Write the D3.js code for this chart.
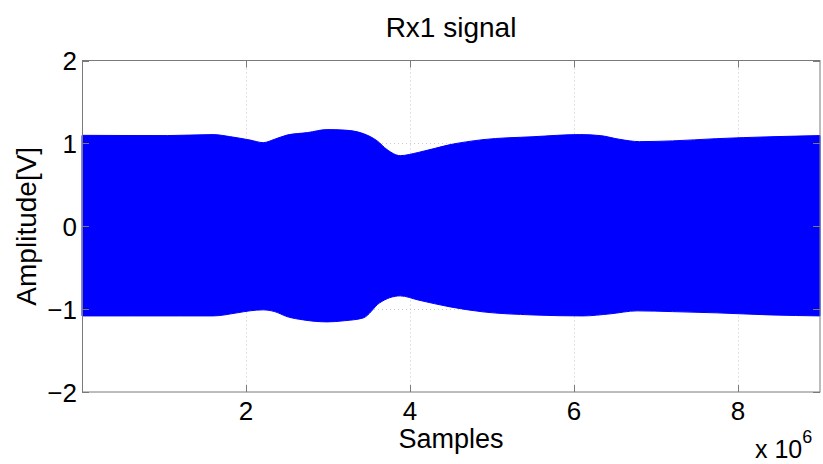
<!DOCTYPE html>
<html><head><meta charset="utf-8">
<script src="https://cdn.jsdelivr.net/npm/d3@7"></script>
<style>body{margin:0;background:#fff}svg{display:block}text{font-family:"Liberation Sans",Arial,sans-serif;fill:#000}</style>
</head><body>
<svg id="chart" width="823" height="464"></svg>
<script>
// Envelope of the Rx1 signal (samples, amplitude in V)
const upperSamples = [0, 0.5e6, 1.04e6, 1.6e6, 1.8e6, 2.05e6, 2.21e6, 2.35e6, 2.5e6, 2.75e6, 2.99e6, 3.2e6, 3.43e6, 3.6e6, 3.72e6, 3.88e6, 4.1e6, 4.49e6, 4.89e6, 5.5e6, 6.07e6, 6.32e6, 6.55e6, 6.8e6, 7.2e6, 7.74e6, 8.4e6, 9e6];
const upperValues  = [1.097, 1.095, 1.094, 1.106, 1.082, 1.04, 1.009, 1.05, 1.10, 1.13, 1.166, 1.16, 1.118, 1.03, 0.925, 0.852, 0.89, 0.985, 1.045, 1.08, 1.106, 1.094, 1.05, 1.021, 1.03, 1.057, 1.08, 1.094];
const lowerSamples = [0, 0.6e6, 1.2e6, 1.6e6, 1.89e6, 2.05e6, 2.21e6, 2.35e6, 2.5e6, 2.7e6, 2.99e6, 3.2e6, 3.43e6, 3.63e6, 3.88e6, 4.1e6, 4.49e6, 4.89e6, 5.5e6, 6.11e6, 6.44e6, 6.77e6, 7.2e6, 7.74e6, 8.4e6, 9e6];
const lowerValues  = [-1.082, -1.082, -1.082, -1.082, -1.045, -1.02, -1.009, -1.03, -1.09, -1.13, -1.154, -1.14, -1.106, -0.924, -0.84, -0.89, -0.973, -1.033, -1.07, -1.082, -1.057, -1.021, -1.03, -1.045, -1.07, -1.082];
const xTicks = [2e6, 4e6, 6e6, 8e6];
const xTickLabels = ["2", "4", "6", "8"];
const yTicks = [-2, -1, 0, 1, 2];
const yTickLabels = ["\u22122", "\u22121", "0", "1", "2"];
const titleText = "Rx1 signal";
const xLabelText = "Samples";
const yLabelText = "Amplitude[V]";

const svg = d3.select("#chart");
const L = 82, R = 820, T = 60.5, B = 392;
const x = d3.scaleLinear().domain([0, 9e6]).range([L, R]);
const y = d3.scaleLinear().domain([-2, 2]).range([B, T]);

// grid (under data)
const grid = svg.append("g").attr("stroke", "#c8c8c8").attr("stroke-width", 1).attr("stroke-dasharray", "1,3");
grid.selectAll(".gx").data(xTicks).join("line")
  .attr("x1", d => Math.round(x(d)) + 0.5).attr("x2", d => Math.round(x(d)) + 0.5).attr("y1", T).attr("y2", B);
grid.selectAll(".gy").data(yTicks.filter(d => d > -2 && d < 2)).join("line")
  .attr("y1", d => Math.round(y(d)) + 0.5).attr("y2", d => Math.round(y(d)) + 0.5).attr("x1", L).attr("x2", R);

const upperPts = upperSamples.map((s, i) => [s, upperValues[i]]);
const lowerPts = lowerSamples.map((s, i) => [s, lowerValues[i]]);
const envArea = d3.area().x(d => x(d[0])).y0(y(0)).y1(d => y(d[1])).curve(d3.curveMonotoneX);
const area = svg.append("g");
area.append("path").datum(upperPts).attr("d", envArea)
  .attr("fill", "#0000ff").attr("stroke", "#0000ff").attr("stroke-width", 1);
area.append("path").datum(lowerPts).attr("d", envArea)
  .attr("fill", "#0000ff").attr("stroke", "#0000ff").attr("stroke-width", 1);
area.append("rect").attr("x", L).attr("width", R - L).attr("y", y(0.3)).attr("height", y(-0.3) - y(0.3)).attr("fill", "#0000ff");

// box
const axc = "#7a7a7a";
svg.append("rect").attr("x", L + 0.5).attr("y", T).attr("width", R - L - 0.5).attr("height", B - T)
  .attr("fill", "none").attr("stroke", axc).attr("stroke-width", 1);

// ticks (inside, mirrored)
const tk = svg.append("g").attr("stroke", axc).attr("stroke-width", 1);
xTicks.forEach(t => {
  const px = Math.round(x(t)) + 0.5;
  tk.append("line").attr("x1", px).attr("x2", px).attr("y1", B).attr("y2", B - 7);
  tk.append("line").attr("x1", px).attr("x2", px).attr("y1", T).attr("y2", T + 7);
});
yTicks.forEach(t => {
  const py = Math.round(y(t)) + 0.5;
  tk.append("line").attr("x1", L).attr("x2", L + 7).attr("y1", py).attr("y2", py);
  tk.append("line").attr("x1", R).attr("x2", R - 7).attr("y1", py).attr("y2", py);
});

// tick labels
svg.append("g").selectAll("text").data(xTicks).join("text")
  .attr("x", d => x(d)).attr("y", 420).attr("text-anchor", "middle").attr("font-size", 26)
  .text((d, i) => xTickLabels[i]);
svg.append("g").selectAll("text").data(yTicks).join("text")
  .attr("x", 77).attr("y", d => y(d) + 9.5).attr("text-anchor", "end").attr("font-size", 26)
  .text((d, i) => yTickLabels[i]);

// title & labels
svg.append("text").attr("x", (L + R) / 2).attr("y", 37).attr("text-anchor", "middle").attr("font-size", 28).text(titleText);
svg.append("text").attr("x", (L + R) / 2).attr("y", 448).attr("text-anchor", "middle").attr("font-size", 27).text(xLabelText);
svg.append("text").attr("transform", `translate(36,${(T + B) / 2}) rotate(-90)`).attr("text-anchor", "middle").attr("font-size", 28).text(yLabelText);

// exponent
const ex = svg.append("text").attr("x", 755).attr("y", 458).attr("font-size", 25);
ex.append("tspan").text("x 10");
ex.append("tspan").attr("font-size", 18).attr("dy", -15).text("6");
</script>
</body></html>
